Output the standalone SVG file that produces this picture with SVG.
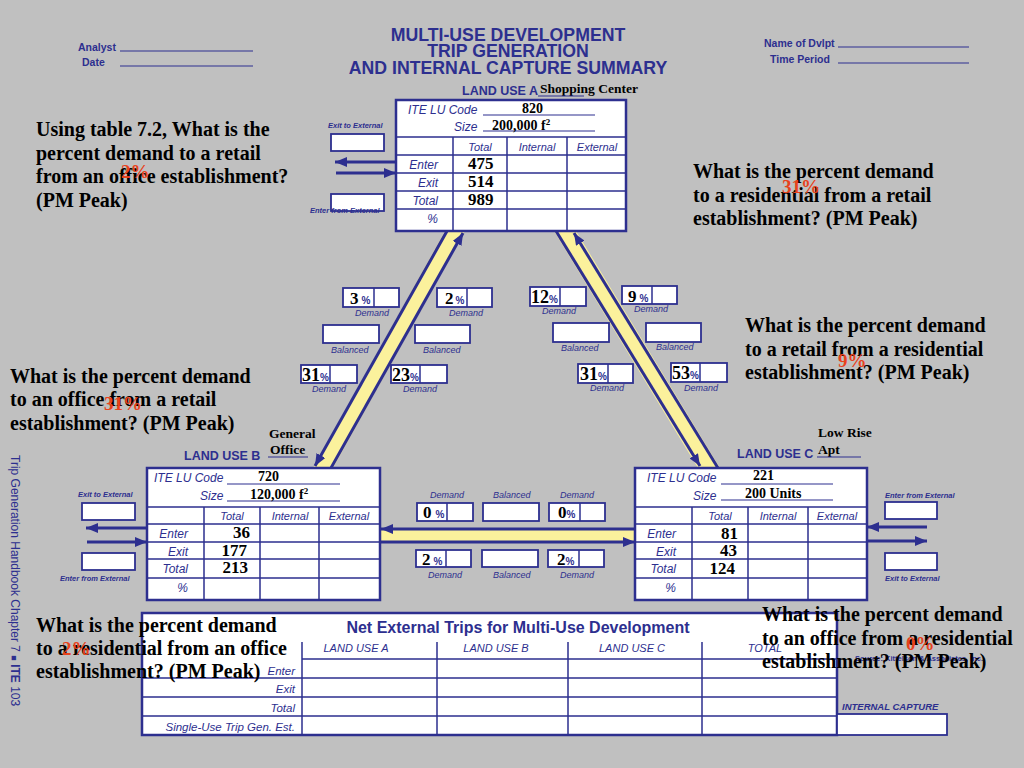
<svg xmlns="http://www.w3.org/2000/svg" width="1024" height="768" viewBox="0 0 1024 768">
<defs>
<style>
.ink{fill:#2d2f8f}
.sans{font-family:"Liberation Sans",Arial,sans-serif}
.serif{font-family:"Liberation Serif","Times New Roman",serif}
.box{fill:#fff;stroke:#2d2f8f;stroke-width:2.5}
.cell{stroke:#2d2f8f;stroke-width:1.5;fill:none}
.ul{stroke:#2d2f8f;stroke-width:1.2}
.ulk{stroke:#2d2f8f;stroke-width:1}
.lbl{font-family:"Liberation Sans",Arial,sans-serif;font-style:italic;fill:#2d2f8f}
.num{font-family:"Liberation Serif","Times New Roman",serif;font-weight:bold;fill:#000}
.q{font-family:"Liberation Serif","Times New Roman",serif;font-weight:bold;fill:#000;font-size:20px}
.red{font-family:"Liberation Serif","Times New Roman",serif;font-weight:bold;fill:#e8421c}
.pct{font-family:"Liberation Sans",Arial,sans-serif;font-weight:bold;fill:#2d2f8f;font-size:10px}
.band{fill:#fbf19c}
.bl{stroke:#2d2f8f;stroke-width:3;fill:none}
.ext{font-family:"Liberation Sans",Arial,sans-serif;font-style:italic;font-weight:bold;fill:#2d2f8f;font-size:7.5px}
.dl{font-family:"Liberation Sans",Arial,sans-serif;font-style:italic;fill:#2d2f8f;font-size:9px}
.sb{fill:#fff;stroke:#2d2f8f;stroke-width:1.8}
</style>
<marker id="ah" viewBox="0 0 12 10" refX="12" refY="5" markerWidth="12" markerHeight="10" markerUnits="userSpaceOnUse" orient="auto"><path d="M0,0 L12,5 L0,10 z" fill="#2d2f8f"/></marker>
</defs>
<rect width="1024" height="768" fill="#c0c0c0"/>

<g id="header">
<text class="sans ink" font-weight="bold" font-size="17.7" text-anchor="middle" x="508" y="41">MULTI-USE DEVELOPMENT</text>
<text class="sans ink" font-weight="bold" font-size="17.7" text-anchor="middle" x="508" y="57">TRIP GENERATION</text>
<text class="sans ink" font-weight="bold" font-size="17.7" text-anchor="middle" x="508" y="74">AND INTERNAL CAPTURE SUMMARY</text>
<text class="sans ink" font-weight="bold" font-size="10.5" x="78" y="51">Analyst</text>
<line class="ul" x1="120" y1="51" x2="253" y2="51"/>
<text class="sans ink" font-weight="bold" font-size="10.5" x="82" y="66">Date</text>
<line class="ul" x1="120" y1="66" x2="253" y2="66"/>
<text class="sans ink" font-weight="bold" font-size="10.5" x="764" y="47">Name of Dvlpt</text>
<line class="ul" x1="838" y1="47" x2="969" y2="47"/>
<text class="sans ink" font-weight="bold" font-size="10.5" x="770" y="63">Time Period</text>
<line class="ul" x1="838" y1="63" x2="969" y2="63"/>
<text class="sans ink" font-size="12" transform="translate(11,455) rotate(90)">Trip Generation Handbook Chapter 7 <tspan font-size="9">■</tspan> <tspan font-weight="bold">ITE</tspan> 103</text>
</g>

<g id="connectors">
<polygon class="band" points="445,231 465,231 333,468 313,468"/>
<line class="bl" x1="447" y1="231" x2="315" y2="466" marker-end="url(#ah)"/>
<line class="bl" x1="331" y1="468" x2="463" y2="233" marker-end="url(#ah)"/>
<polygon class="band" points="554,231 576,231 720,468 698,468"/>
<line class="bl" x1="556" y1="231" x2="700" y2="466" marker-end="url(#ah)"/>
<line class="bl" x1="718" y1="468" x2="574" y2="233" marker-end="url(#ah)"/>
<rect class="band" x="380" y="530" width="255" height="11"/>
<line class="bl" x1="635" y1="529" x2="381" y2="529" marker-end="url(#ah)"/>
<line class="bl" x1="380" y1="542" x2="635" y2="542" marker-end="url(#ah)"/>
<line class="bl" x1="396" y1="162" x2="335" y2="162" marker-end="url(#ah)"/>
<line class="bl" x1="336" y1="173" x2="396" y2="173" marker-end="url(#ah)"/>
<line class="bl" x1="147" y1="528" x2="86" y2="528" marker-end="url(#ah)"/>
<line class="bl" x1="87" y1="542" x2="147" y2="542" marker-end="url(#ah)"/>
<line class="bl" x1="927" y1="527" x2="867" y2="527" marker-end="url(#ah)"/>
<line class="bl" x1="867" y1="541" x2="927" y2="541" marker-end="url(#ah)"/>
</g>

<g id="land-use-a">
<text class="sans ink" font-weight="bold" font-size="12.5" x="462" y="95">LAND USE A</text>
<text class="num" font-size="13.5" x="540" y="93">Shopping Center</text>
<line class="ulk" x1="538" y1="96" x2="584" y2="96"/>
<rect class="box" x="396" y="100" width="230" height="131"/>
<path class="cell" d="M396,137H626M396,155H626M396,173H626M396,191H626M396,209H626M453,137V231M507,137V231M567,137V231"/>
<text class="lbl" font-size="12" x="408" y="114">ITE LU Code</text>
<line class="ul" x1="483" y1="115" x2="595" y2="115"/>
<text class="lbl" font-size="12" x="454" y="131">Size</text>
<line class="ul" x1="483" y1="131" x2="595" y2="131"/>
<text class="num" font-size="14" x="522" y="113">820</text>
<text class="num" font-size="14" x="492" y="130">200,000 f<tspan font-size="9" dy="-5">2</tspan></text>
<text class="lbl" font-size="11" text-anchor="middle" x="480" y="151">Total</text>
<text class="lbl" font-size="11" text-anchor="middle" x="537" y="151">Internal</text>
<text class="lbl" font-size="11" text-anchor="middle" x="597" y="151">External</text>
<text class="lbl" font-size="12" text-anchor="end" x="438" y="169">Enter</text>
<text class="lbl" font-size="12" text-anchor="end" x="438" y="187">Exit</text>
<text class="lbl" font-size="12" text-anchor="end" x="438" y="205">Total</text>
<text class="lbl" font-size="12" text-anchor="end" x="438" y="223">%</text>
<text class="num" font-size="17" x="468" y="169">475</text>
<text class="num" font-size="17" x="468" y="187">514</text>
<text class="num" font-size="17" x="468" y="205">989</text>
<text class="ext" x="328" y="128">Exit to External</text>
<rect class="sb" x="331" y="134" width="53" height="17"/>
<rect class="sb" x="331" y="194" width="53" height="17"/>
<text class="ext" x="310" y="213">Enter from External</text>
</g>

<g id="land-use-b">
<text class="num" font-size="13.5" x="269" y="438">General</text>
<text class="num" font-size="13.5" x="270" y="454">Office</text>
<line class="ulk" x1="268" y1="457" x2="308" y2="457"/>
<text class="sans ink" font-weight="bold" font-size="12.5" x="184" y="460">LAND USE B</text>
<rect class="box" x="147" y="468" width="233" height="132"/>
<path class="cell" d="M147,507H380M147,524H380M147,542H380M147,559H380M147,578H380M204,507V600M260,507V600M319,507V600"/>
<text class="lbl" font-size="12" x="154" y="482">ITE LU Code</text>
<line class="ul" x1="227" y1="484" x2="340" y2="484"/>
<text class="lbl" font-size="12" x="200" y="500">Size</text>
<line class="ul" x1="227" y1="501" x2="340" y2="501"/>
<text class="num" font-size="14" x="258" y="481">720</text>
<text class="num" font-size="14" x="250" y="499">120,000 f<tspan font-size="9" dy="-5">2</tspan></text>
<text class="lbl" font-size="11" text-anchor="middle" x="232" y="520">Total</text>
<text class="lbl" font-size="11" text-anchor="middle" x="290" y="520">Internal</text>
<text class="lbl" font-size="11" text-anchor="middle" x="349" y="520">External</text>
<text class="lbl" font-size="12" text-anchor="end" x="188" y="538">Enter</text>
<text class="lbl" font-size="12" text-anchor="end" x="188" y="556">Exit</text>
<text class="lbl" font-size="12" text-anchor="end" x="188" y="573">Total</text>
<text class="lbl" font-size="12" text-anchor="end" x="188" y="592">%</text>
<text class="num" font-size="17" text-anchor="end" x="250" y="538">36</text>
<text class="num" font-size="17" text-anchor="end" x="247" y="556">177</text>
<text class="num" font-size="17" text-anchor="end" x="248" y="573">213</text>
<text class="ext" x="78" y="497">Exit to External</text>
<rect class="sb" x="82" y="503" width="53" height="17"/>
<rect class="sb" x="82" y="553" width="53" height="17"/>
<text class="ext" x="60" y="581">Enter from External</text>
</g>

<g id="land-use-c">
<text class="num" font-size="13.5" x="818" y="437">Low Rise</text>
<text class="num" font-size="13.5" x="818" y="454">Apt</text>
<line class="ulk" x1="817" y1="457" x2="861" y2="457"/>
<text class="sans ink" font-weight="bold" font-size="12.5" x="737" y="458">LAND USE C</text>
<rect class="box" x="635" y="468" width="232" height="132"/>
<path class="cell" d="M635,507H867M635,524H867M635,542H867M635,559H867M635,578H867M692,507V600M748,507V600M808,507V600"/>
<text class="lbl" font-size="12" x="647" y="482">ITE LU Code</text>
<line class="ul" x1="721" y1="484" x2="833" y2="484"/>
<text class="lbl" font-size="12" x="693" y="500">Size</text>
<line class="ul" x1="721" y1="500" x2="833" y2="500"/>
<text class="num" font-size="14" x="753" y="480">221</text>
<text class="num" font-size="14" x="745" y="498">200 Units</text>
<text class="lbl" font-size="11" text-anchor="middle" x="720" y="520">Total</text>
<text class="lbl" font-size="11" text-anchor="middle" x="778" y="520">Internal</text>
<text class="lbl" font-size="11" text-anchor="middle" x="837" y="520">External</text>
<text class="lbl" font-size="12" text-anchor="end" x="676" y="538">Enter</text>
<text class="lbl" font-size="12" text-anchor="end" x="676" y="556">Exit</text>
<text class="lbl" font-size="12" text-anchor="end" x="676" y="573">Total</text>
<text class="lbl" font-size="12" text-anchor="end" x="676" y="592">%</text>
<text class="num" font-size="17" text-anchor="end" x="738" y="539">81</text>
<text class="num" font-size="17" text-anchor="end" x="737" y="556">43</text>
<text class="num" font-size="17" text-anchor="end" x="735" y="574">124</text>
<text class="ext" x="885" y="498">Enter from External</text>
<rect class="sb" x="885" y="502" width="52" height="17"/>
<rect class="sb" x="885" y="553" width="52" height="17"/>
<text class="ext" x="885" y="581">Exit to External</text>
</g>

<g id="demand-ab">
<rect class="sb" x="343" y="288" width="56" height="19"/><line class="cell" x1="374" y1="288" x2="374" y2="307"/>
<text class="num" font-size="17" x="350" y="304">3<tspan class="pct" dx="3">%</tspan></text>
<text class="dl" x="355" y="316">Demand</text>
<rect class="sb" x="437" y="288" width="55" height="19"/><line class="cell" x1="467" y1="288" x2="467" y2="307"/>
<text class="num" font-size="17" x="445" y="304">2<tspan class="pct" dx="2">%</tspan></text>
<text class="dl" x="449" y="316">Demand</text>
<rect class="sb" x="323" y="325" width="56" height="18"/>
<text class="dl" x="331" y="353">Balanced</text>
<rect class="sb" x="415" y="325" width="55" height="18"/>
<text class="dl" x="423" y="353">Balanced</text>
<rect class="sb" x="301" y="365" width="56" height="18"/><line class="cell" x1="330" y1="365" x2="330" y2="383"/>
<text class="num" font-size="18" x="302" y="381">31<tspan class="pct">%</tspan></text>
<text class="dl" x="312" y="392">Demand</text>
<rect class="sb" x="391" y="365" width="56" height="18"/><line class="cell" x1="420" y1="365" x2="420" y2="383"/>
<text class="num" font-size="18" x="392" y="381">23<tspan class="pct">%</tspan></text>
<text class="dl" x="403" y="392">Demand</text>
</g>

<g id="demand-ac">
<rect class="sb" x="530" y="287" width="56" height="19"/><line class="cell" x1="560" y1="287" x2="560" y2="306"/>
<text class="num" font-size="18" x="531" y="303">12<tspan class="pct">%</tspan></text>
<text class="dl" x="542" y="314">Demand</text>
<rect class="sb" x="622" y="286" width="55" height="18"/><line class="cell" x1="652" y1="286" x2="652" y2="304"/>
<text class="num" font-size="17" x="628" y="302">9<tspan class="pct" dx="3">%</tspan></text>
<text class="dl" x="634" y="312">Demand</text>
<rect class="sb" x="553" y="323" width="56" height="19"/>
<text class="dl" x="561" y="351">Balanced</text>
<rect class="sb" x="646" y="323" width="55" height="19"/>
<text class="dl" x="656" y="350">Balanced</text>
<rect class="sb" x="578" y="364" width="55" height="19"/><line class="cell" x1="608" y1="364" x2="608" y2="383"/>
<text class="num" font-size="18" x="580" y="380">31<tspan class="pct">%</tspan></text>
<text class="dl" x="590" y="391">Demand</text>
<rect class="sb" x="671" y="363" width="56" height="19"/><line class="cell" x1="700" y1="363" x2="700" y2="382"/>
<text class="num" font-size="18" x="672" y="379">53<tspan class="pct">%</tspan></text>
<text class="dl" x="684" y="391">Demand</text>
</g>

<g id="demand-bc">
<text class="dl" x="430" y="498">Demand</text>
<text class="dl" x="493" y="498">Balanced</text>
<text class="dl" x="560" y="498">Demand</text>
<rect class="sb" x="417" y="503" width="56" height="18"/><line class="cell" x1="447" y1="503" x2="447" y2="521"/>
<text class="num" font-size="17" x="423" y="518">0<tspan class="pct" dx="4">%</tspan></text>
<rect class="sb" x="483" y="503" width="56" height="18"/>
<rect class="sb" x="549" y="503" width="56" height="18"/><line class="cell" x1="580" y1="503" x2="580" y2="521"/>
<text class="num" font-size="17" x="558" y="518">0<tspan class="pct">%</tspan></text>
<rect class="sb" x="416" y="550" width="55" height="17"/><line class="cell" x1="446" y1="550" x2="446" y2="567"/>
<text class="num" font-size="17" x="422" y="565">2<tspan class="pct" dx="3">%</tspan></text>
<rect class="sb" x="482" y="550" width="56" height="17"/>
<rect class="sb" x="548" y="550" width="56" height="17"/><line class="cell" x1="579" y1="550" x2="579" y2="567"/>
<text class="num" font-size="17" x="557" y="565">2<tspan class="pct">%</tspan></text>
<text class="dl" x="428" y="578">Demand</text>
<text class="dl" x="493" y="578">Balanced</text>
<text class="dl" x="560" y="578">Demand</text>
</g>

<g id="net-external">
<rect class="box" x="142" y="613" width="695" height="122"/>
<path class="cell" d="M302,659H837M142,678H837M142,697H837M142,716H837M302,642V735M437,642V735M568,642V735M702,642V735"/>
<text class="sans ink" font-weight="bold" font-size="16" text-anchor="middle" x="518" y="633">Net External Trips for Multi-Use Development</text>
<text class="lbl" font-size="11" text-anchor="middle" x="356" y="652">LAND USE A</text>
<text class="lbl" font-size="11" text-anchor="middle" x="496" y="652">LAND USE B</text>
<text class="lbl" font-size="11" text-anchor="middle" x="632" y="652">LAND USE C</text>
<text class="lbl" font-size="11" text-anchor="middle" x="765" y="652">TOTAL</text>
<text class="lbl" font-size="11.5" text-anchor="end" x="295" y="675">Enter</text>
<text class="lbl" font-size="11.5" text-anchor="end" x="295" y="693">Exit</text>
<text class="lbl" font-size="11.5" text-anchor="end" x="295" y="712">Total</text>
<text class="lbl" font-size="11.5" text-anchor="end" x="295" y="731">Single-Use Trip Gen. Est.</text>
<text class="lbl" font-weight="bold" font-size="9.5" x="842" y="710">INTERNAL CAPTURE</text>
<rect class="sb" x="837" y="714" width="110" height="21"/>
<text class="sans ink" font-weight="bold" font-size="7.5" x="855" y="661">Source: Kittelson &amp; Associates, Inc.</text>
</g>

<g id="questions">
<text class="q" x="36" y="136">Using table 7.2, What is the</text>
<text class="q" x="36" y="160">percent demand to a retail</text>
<text class="q" x="36" y="183">from an office establishment?</text>
<text class="q" x="36" y="207">(PM Peak)</text>
<text class="red" font-size="19" x="121" y="178">2%</text>

<text class="q" x="693" y="178">What is the percent demand</text>
<text class="q" x="693" y="202">to a residential from a retail</text>
<text class="q" x="693" y="225">establishment? (PM Peak)</text>
<text class="red" font-size="19" x="782" y="193">31%</text>

<text class="q" x="745" y="332">What is the percent demand</text>
<text class="q" x="745" y="356">to a retail from a residential</text>
<text class="q" x="745" y="379">establishment? (PM Peak)</text>
<text class="red" font-size="19" x="838" y="367">9%</text>

<text class="q" x="10" y="383">What is the percent demand</text>
<text class="q" x="10" y="406">to an office from a retail</text>
<text class="q" x="10" y="430">establishment? (PM Peak)</text>
<text class="red" font-size="19" x="104" y="410">31%</text>

<text class="q" x="36" y="632">What is the percent demand</text>
<text class="q" x="36" y="655">to a residential from an office</text>
<text class="q" x="36" y="678">establishment? (PM Peak)</text>
<text class="red" font-size="19" x="62" y="655">2%</text>

<text class="q" x="762" y="621">What is the percent demand</text>
<text class="q" x="762" y="645">to an office from a residential</text>
<text class="q" x="762" y="668">establishment? (PM Peak)</text>
<text class="red" font-size="19" x="906" y="650">0%</text>
</g>
</svg>
